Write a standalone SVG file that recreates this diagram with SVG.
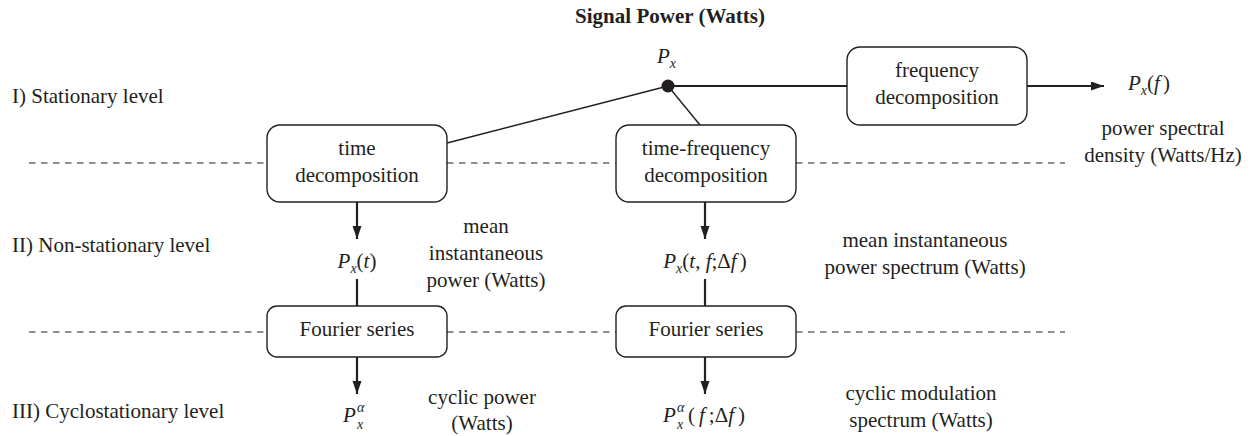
<svg xmlns="http://www.w3.org/2000/svg" width="1256" height="436" viewBox="0 0 1256 436" font-family="'Liberation Serif', 'Times New Roman', 'DejaVu Serif', serif">
<defs>
<style>
text{font-family:'Liberation Serif','Times New Roman','DejaVu Serif',serif;font-size:21px;fill:#231f20}
.c{text-anchor:middle}
.b{font-weight:bold}
.i{font-style:italic}
.s{font-size:14px;font-style:italic}
.box{fill:#fff;stroke:#231f20;stroke-width:1.4}
.dash{stroke:#231f20;stroke-width:1.1;stroke-dasharray:6.5 5.5;fill:none}
.thin{stroke:#231f20;stroke-width:1.4;fill:none}
.thick{stroke:#231f20;stroke-width:2.2;fill:none}
</style>
<marker id="ah" markerUnits="userSpaceOnUse" markerWidth="14" markerHeight="10" refX="13" refY="4.5" orient="auto">
<path d="M0,0 L13,4.5 L0,9 z" fill="#231f20"/>
</marker>
</defs>
<rect width="1256" height="436" fill="#fff"/>

<g id="levels">
<line class="dash" x1="29" y1="163" x2="267" y2="163"/>
<line class="dash" x1="447" y1="163" x2="616" y2="163"/>
<line class="dash" x1="796" y1="163" x2="1065" y2="163"/>
<line class="dash" x1="29" y1="332" x2="267" y2="332"/>
<line class="dash" x1="447" y1="332" x2="616" y2="332"/>
<line class="dash" x1="796" y1="332" x2="1065" y2="332"/>
<text x="12" y="103">I) Stationary level</text>
<text x="12" y="252">II) Non-stationary level</text>
<text x="12" y="418">III) Cyclostationary level</text>
</g>

<text class="c b" x="670" y="23">Signal Power (Watts)</text>

<g id="connectors">
<line class="thick" x1="668" y1="86" x2="847" y2="86"/>
<line class="thin" x1="668" y1="86" x2="447" y2="143"/>
<line class="thin" x1="668" y1="86" x2="700" y2="125"/>
<line class="thick" x1="1027" y1="86" x2="1104" y2="86" marker-end="url(#ah)"/>
<line class="thick" x1="357" y1="202" x2="357" y2="239" marker-end="url(#ah)"/>
<line class="thick" x1="705" y1="202" x2="705" y2="239" marker-end="url(#ah)"/>
<line class="thick" x1="357" y1="279" x2="357" y2="306"/>
<line class="thick" x1="705" y1="279" x2="705" y2="306"/>
<line class="thick" x1="357" y1="357" x2="357" y2="394" marker-end="url(#ah)"/>
<line class="thick" x1="705" y1="357" x2="705" y2="394" marker-end="url(#ah)"/>
</g>

<g id="node-px">
<circle cx="668" cy="86" r="6.5" fill="#231f20"/>
<text x="657" y="63"><tspan class="i">P</tspan><tspan class="s" dy="5">x</tspan></text>
</g>

<g id="node-freq">
<rect class="box" x="847" y="47" width="180" height="78" rx="13"/>
<text class="c" x="937" y="77">frequency</text>
<text class="c" x="937" y="104">decomposition</text>
</g>

<g id="node-pxf">
<text x="1128" y="90"><tspan class="i">P</tspan><tspan class="s" dy="5">x</tspan><tspan dy="-5">(</tspan><tspan class="i">f</tspan><tspan dx="3">)</tspan></text>
<text class="c" x="1163" y="135">power spectral</text>
<text class="c" x="1163" y="162">density (Watts/Hz)</text>
</g>

<g id="node-time">
<rect class="box" x="267" y="125" width="180" height="77" rx="13"/>
<text class="c" x="357" y="155">time</text>
<text class="c" x="357" y="182">decomposition</text>
</g>

<g id="node-tf">
<rect class="box" x="616" y="125" width="180" height="77" rx="13"/>
<text class="c" x="706" y="155">time-frequency</text>
<text class="c" x="706" y="182">decomposition</text>
</g>

<g id="node-pxt">
<text class="c" x="357" y="268"><tspan class="i">P</tspan><tspan class="s" dy="5">x</tspan><tspan dy="-5">(</tspan><tspan class="i">t</tspan>)</text>
<text class="c" x="486" y="233">mean</text>
<text class="c" x="486" y="260">instantaneous</text>
<text class="c" x="486" y="287">power (Watts)</text>
</g>

<g id="node-pxtf">
<text class="c" x="705" y="268"><tspan class="i">P</tspan><tspan class="s" dy="5">x</tspan><tspan dy="-5">(</tspan><tspan class="i">t</tspan>, <tspan class="i">f</tspan>;Δ<tspan class="i">f</tspan><tspan dx="3">)</tspan></text>
<text class="c" x="925" y="247">mean instantaneous</text>
<text class="c" x="925" y="274">power spectrum (Watts)</text>
</g>

<g id="node-fourier1">
<rect class="box" x="267" y="306" width="180" height="51" rx="10"/>
<text class="c" x="357" y="336">Fourier series</text>
</g>

<g id="node-fourier2">
<rect class="box" x="616" y="306" width="180" height="51" rx="10"/>
<text class="c" x="706" y="336">Fourier series</text>
</g>

<g id="node-cyclic">
<text x="343" y="422" class="i">P</text>
<text x="357" y="429" class="s">x</text>
<text x="357" y="412" class="s">α</text>
<text class="c" x="482" y="404">cyclic power</text>
<text class="c" x="482" y="430">(Watts)</text>
</g>

<g id="node-cms">
<text x="663" y="422" class="i">P</text>
<text x="677" y="429" class="s">x</text>
<text x="677" y="412" class="s">α</text>
<text x="688" y="422">(<tspan class="i" dx="4">f</tspan><tspan dx="4">;Δ</tspan><tspan class="i">f</tspan><tspan dx="4">)</tspan></text>
<text class="c" x="921" y="400">cyclic modulation</text>
<text class="c" x="921" y="427">spectrum (Watts)</text>
</g>
</svg>
